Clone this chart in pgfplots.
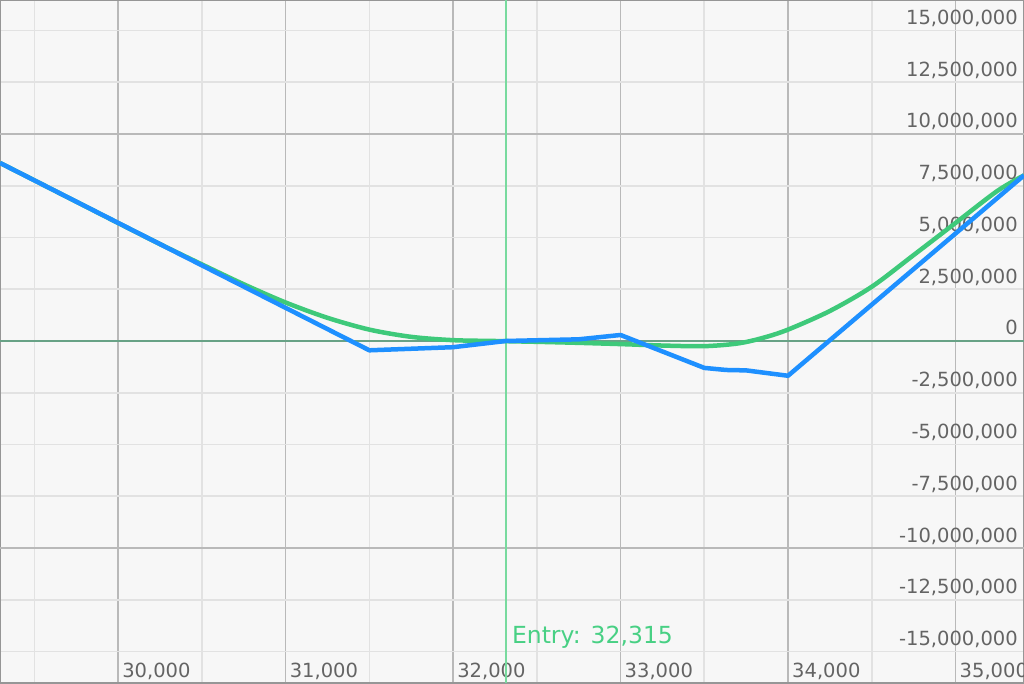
\documentclass[border=0pt]{standalone}
\usepackage{pgfplots}
\pgfplotsset{compat=1.18}
\usepackage{fontspec}
\setmainfont{DejaVu Sans}
\definecolor{bgc}{RGB}{247,247,247}
\definecolor{gmaj}{RGB}{185,185,185}
\definecolor{gmin}{RGB}{226,226,226}
\definecolor{framec}{RGB}{150,150,150}
\definecolor{labc}{RGB}{100,100,100}
\definecolor{bluec}{RGB}{30,144,255}
\definecolor{greenc}{RGB}{62,201,122}
\definecolor{entryc}{RGB}{120,218,158}
\definecolor{entrytxt}{RGB}{72,208,132}
\definecolor{zeroc}{RGB}{104,162,134}
\begin{document}
\begin{tikzpicture}
\begin{axis}[
  width=1024pt, height=683pt, scale only axis,
  xmin=29295, xmax=35409, ymin=-16.52e6, ymax=16.47e6,
  axis background/.style={fill=bgc},
  axis line style={draw=framec, line width=1.5pt},
  major tick length=0pt, minor tick length=0pt,
  major grid style={draw=gmaj, line width=1.6pt},
  minor grid style={draw=gmin, line width=1.6pt},
  xtick={30000,31000,32000,33000,34000,35000},
  xticklabels={{30,000},{31,000},{32,000},{33,000},{34,000},{35,000}},
  xmajorgrids=true,
  minor xtick={29500,30500,31500,32500,33500,34500},
  xminorgrids=true,
  ytick={-15e6,-12.5e6,-7.5e6,-5e6,-2.5e6,0,2.5e6,5e6,7.5e6,12.5e6,15e6},
  yticklabels={{-15,000,000},{-12,500,000},{-7,500,000},{-5,000,000},{-2,500,000},{0},{2,500,000},{5,000,000},{7,500,000},{12,500,000},{15,000,000}},
  ymajorgrids=false,
  minor ytick={-15e6,-12.5e6,-7.5e6,-5e6,-2.5e6,2.5e6,5e6,7.5e6,12.5e6,15e6},
  yminorgrids=true,
  extra y ticks={-10e6,10e6},
  extra y tick labels={{-10,000,000},{10,000,000}},
  extra y tick style={grid=major},
  scaled y ticks=false, scaled x ticks=false,
  yticklabel pos=right,
  yticklabel style={anchor=base east, inner sep=0pt, xshift=-6pt, yshift=6pt, text=labc, font=\fontsize{19.5pt}{22pt}\selectfont},
  xticklabel style={anchor=base west, inner sep=0pt, xshift=4pt, yshift=6pt, text=labc, font=\fontsize{19.5pt}{22pt}\selectfont},
  clip=true,
]
\draw[zeroc, line width=2pt] (axis cs:29295,0) -- (axis cs:35409,0);
\draw[entryc, line width=1.8pt] (axis cs:32315,-16.52e6) -- (axis cs:32315,16.47e6);
\node[anchor=base west, inner sep=0pt, text=entrytxt, font=\fontsize{23.5pt}{26pt}\selectfont, xshift=6pt, yshift=8.5pt] at (axis cs:32315,-15e6) {Entry: 32,315};
\addplot[greenc, line width=4.5pt, smooth, tension=0.5] coordinates {
(29295,8.6e6) (29500,7.76e6) (30000,5.7e6) (30250,4.68e6) (30500,3.7e6) (30750,2.74e6)
(31000,1.86e6) (31250,1.12e6) (31500,0.55e6) (31750,0.2e6) (32000,0.04e6) (32250,0.0)
(32500,-0.04e6) (32750,-0.09e6) (33000,-0.15e6) (33250,-0.22e6) (33500,-0.25e6)
(33700,-0.12e6) (33850,0.15e6) (34000,0.55e6) (34250,1.45e6) (34500,2.62e6)
(34750,4.15e6) (35000,5.7e6) (35250,7.25e6) (35409,8.0e6)
};
\addplot[bluec, line width=4.5pt, line join=round] coordinates {
(29295,8.6e6) (31500,-0.45e6) (32000,-0.3e6) (32315,0.0) (32750,0.08e6) (33000,0.29e6)
(33500,-1.3e6) (33630,-1.4e6) (33750,-1.42e6) (34000,-1.68e6) (35409,8.0e6)
};
\end{axis}
\pgfresetboundingbox
\useasboundingbox (current axis.south west) rectangle (current axis.north east);
\end{tikzpicture}
\end{document}
